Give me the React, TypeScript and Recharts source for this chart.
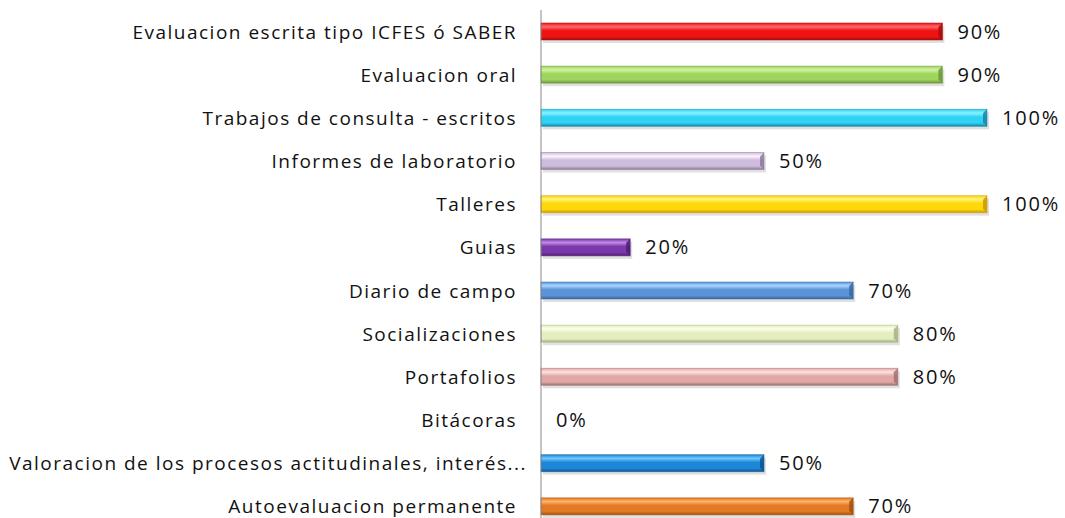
import { BarChart, Bar, XAxis, YAxis, Cell, LabelList } from "recharts";

const categories = [
  "Evaluacion escrita tipo ICFES ó SABER",
  "Evaluacion oral",
  "Trabajos de consulta - escritos",
  "Informes de laboratorio",
  "Talleres",
  "Guias",
  "Diario de campo",
  "Socializaciones",
  "Portafolios",
  "Bitácoras",
  "Valoracion de los procesos actitudinales, interés...",
  "Autoevaluacion permanente",
];

const percentages = [90, 90, 100, 50, 100, 20, 70, 80, 80, 0, 50, 70];

// [highlight, base, shadow] per bar
const palette = [
  ["#ff6a6a", "#ee1414", "#a80c0c"],
  ["#d2f5a0", "#9fd45e", "#6b973a"],
  ["#8af3ff", "#2fd2f2", "#1487a8"],
  ["#fff4ff", "#cdbcdc", "#8c7a9e"],
  ["#fff37a", "#ffd80a", "#c99a00"],
  ["#c189e6", "#7a38aa", "#4e1f74"],
  ["#a9d4ff", "#5b93d6", "#3767a0"],
  ["#fbffe8", "#e4eec0", "#a6b27e"],
  ["#ffe2e2", "#e2a8a8", "#a56e6e"],
  ["#cccccc", "#aaaaaa", "#888888"],
  ["#6fc8ff", "#1e86d6", "#0f5493"],
  ["#ffb46a", "#e27a24", "#a24e0d"],
];

const data = categories.map((name, i) => ({ name, value: percentages[i], idx: i }));

const FONT = "'Open Sans', sans-serif";

function CategoryTick(props: any) {
  const { x, y, payload } = props;
  // truncated labels run closer to the axis, as in the original
  const gap = String(payload.value).endsWith("...") ? 6 : 16;
  return (
    <text
      x={x - gap}
      y={y}
      textAnchor="end"
      dominantBaseline="central"
      fontFamily={FONT}
      fontSize={19}
      letterSpacing={1.5}
      fill="#111"
    >
      {payload.value}
    </text>
  );
}

function GlossyBar(props: any) {
  const { x, y, width, height, idx } = props;
  if (!width || width <= 0) return null;
  const dark = palette[idx][2];
  const bevel = 4;
  return (
    <g>
      <rect x={x + 2} y={y + 3} width={width} height={height} fill="#000" opacity={0.12} />
      <rect x={x} y={y} width={width} height={height} fill={`url(#grad${idx})`} />
      <polygon
        points={`${x + width - bevel},${y + bevel} ${x + width},${y} ${x + width},${y + height} ${x + width - bevel},${y + height - bevel}`}
        fill={dark}
        opacity={0.85}
      />
      <rect x={x} y={y} width={width} height={height} fill="none" stroke={dark} strokeOpacity={0.5} strokeWidth={1} />
    </g>
  );
}

export default function App() {
  return (
    <div style={{ position: "absolute", left: 0, top: 0, background: "#fff" }}>
      <BarChart
        width={1065}
        height={528}
        data={data}
        layout="vertical"
        margin={{ top: 10, right: 78, bottom: 0, left: 0 }}
        barSize={17}
      >
        <defs>
          {palette.map((c, i) => (
            <linearGradient key={i} id={`grad${i}`} x1="0" y1="0" x2="0" y2="1">
              <stop offset="0%" stopColor={c[1]} />
              <stop offset="22%" stopColor={c[0]} />
              <stop offset="45%" stopColor={c[1]} />
              <stop offset="80%" stopColor={c[1]} />
              <stop offset="100%" stopColor={c[2]} />
            </linearGradient>
          ))}
        </defs>
        <XAxis type="number" domain={[0, 100]} hide />
        <YAxis
          type="category"
          dataKey="name"
          width={541}
          axisLine={{ stroke: "#8a8a8a", strokeWidth: 1 }}
          tickLine={false}
          tick={<CategoryTick />}
          interval={0}
        />
        <Bar dataKey="value" isAnimationActive={false} shape={<GlossyBar />}>
          {data.map((d) => (
            <Cell key={d.idx} fill={palette[d.idx][1]} />
          ))}
          <LabelList
            dataKey="value"
            position="right"
            offset={15}
            formatter={(v: any) => `${v}%`}
            style={{ fontFamily: FONT, fontSize: 20, letterSpacing: 1.8, fill: "#111" }}
          />
        </Bar>
      </BarChart>
    </div>
  );
}
